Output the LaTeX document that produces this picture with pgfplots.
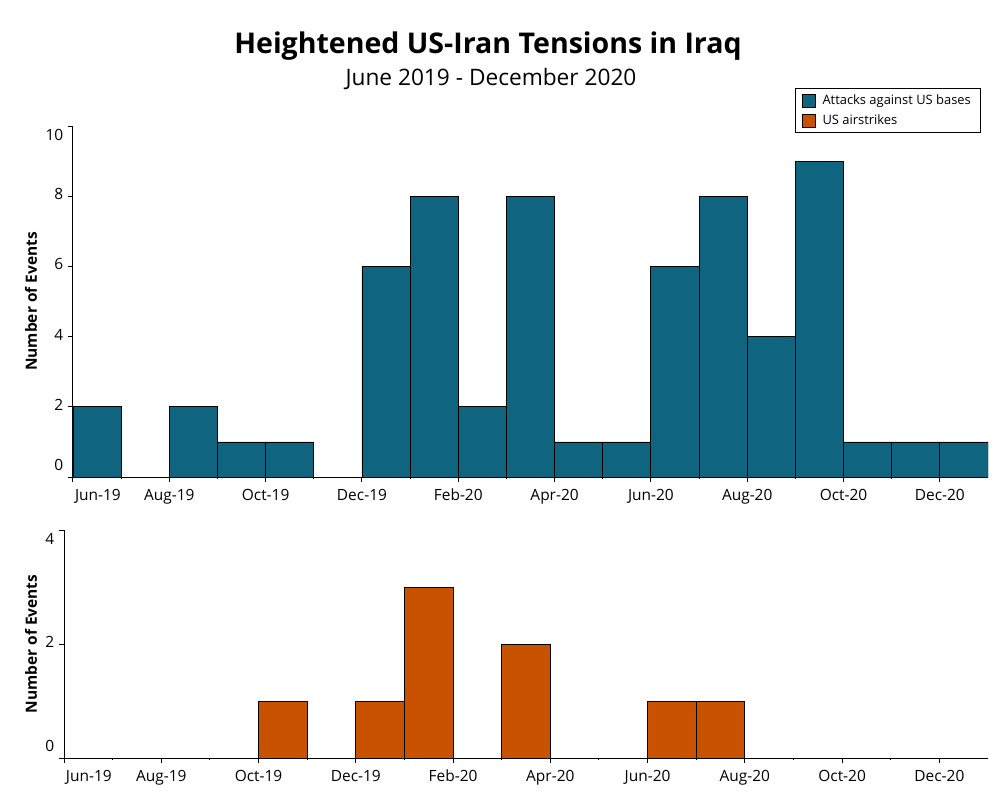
\documentclass[border=0pt]{standalone}
\usepackage{fontspec}
\setmainfont{Open Sans}
\usepackage{pgfplots}
\pgfplotsset{compat=1.18}

\definecolor{attackcol}{HTML}{0F6580}
\definecolor{strikecol}{HTML}{C85200}

% one reference pixel
\def\px{0.75pt}
\newcommand\up[1]{\raisebox{7.5pt}[\height][\depth]{#1}}
\newcommand\dn[1]{\raisebox{-8pt}[\height][\depth]{#1}}

\pgfplotsset{
  monthbars/.style={
    axis x line*=bottom,
    axis y line*=left,
    scale only axis,
    enlargelimits=false,
    xmin=0, xmax=19,
    xtick={0,2,...,18},
    minor xtick={1,3,...,17},
    xticklabels={\rlap{\hspace*{1.5pt}Jun-19},Aug-19,Oct-19,Dec-19,Feb-20,Apr-20,Jun-20,Aug-20,Oct-20,Dec-20},
    typeset ticklabels with strut,
    tick align=outside,
    major tick length=3.75pt,
    minor tick length=1.5pt,
    tick style={black, line width=0.75pt},
    axis line style={black, line width=0.75pt},
    tick label style={font=\fontsize{11.6}{13}\selectfont},
    xticklabel style={yshift=-1.5pt},
    ylabel={Number of Events},
    ylabel style={font=\fontsize{11.6}{13}\selectfont\bfseries, anchor=center},
    ybar, bar width=1, bar shift=0,
    legend image code/.code={\draw[#1, line width=0.6pt] (0pt,-4.875pt) rectangle (9.75pt,4.875pt);},
  },
}

\begin{document}
\begin{tikzpicture}
\path[use as bounding box] (0,0) rectangle (1000*\px,-800*\px);

\node[anchor=base, font=\fontsize{21.4}{24}\selectfont\bfseries] at (488*\px,-53*\px) {Heightened US-Iran Tensions in Iraq};
\node[anchor=base, font=\fontsize{17}{20}\selectfont] at (491*\px,-85*\px) {June 2019 - December 2020};

% attacks against US bases, one bar per month (index 0 = Jun-19)
\begin{axis}[
  monthbars,
  at={(73*\px,-126*\px)}, anchor=north west,
  width=915*\px, height=351*\px,
  ymin=0, ymax=10,
  ytick={0,2,...,10},
  yticklabels={\up{0},2,4,6,8,\dn{10}},
  ylabel style={at={(axis description cs:-0.0459,0.5)}},
  legend style={at={(0.992,1.108)}, anchor=north east, draw=black, line width=0.75pt,
    font=\fontsize{9.7}{13.5}\selectfont, legend cell align=left,
    inner xsep=5pt, inner ysep=2.5pt, row sep=2.5pt, column sep=3pt},
]
\addplot[fill=attackcol, draw=black, line width=0.6pt] coordinates {
  (0.5,2) (2.5,2) (3.5,1) (4.5,1) (6.5,6) (7.5,8) (8.5,2) (9.5,8)
  (10.5,1) (11.5,1) (12.5,6) (13.5,8) (14.5,4) (15.5,9) (16.5,1) (17.5,1) (18.5,1)
};
\addlegendentry{Attacks against US bases}
\addlegendimage{fill=strikecol, draw=black}
\addlegendentry{US airstrikes}
\end{axis}

% US airstrikes
\begin{axis}[
  monthbars,
  at={(64*\px,-530*\px)}, anchor=north west,
  width=924*\px, height=228*\px,
  ymin=0, ymax=4,
  ytick={0,2,4},
  yticklabels={\up{0},2,\dn{4}},
  ylabel style={at={(axis description cs:-0.0357,0.5)}},
]
\addplot[fill=strikecol, draw=black, line width=0.6pt] coordinates {
  (4.5,1) (6.5,1) (7.5,3) (9.5,2) (12.5,1) (13.5,1)
};
\end{axis}
\end{tikzpicture}
\end{document}
